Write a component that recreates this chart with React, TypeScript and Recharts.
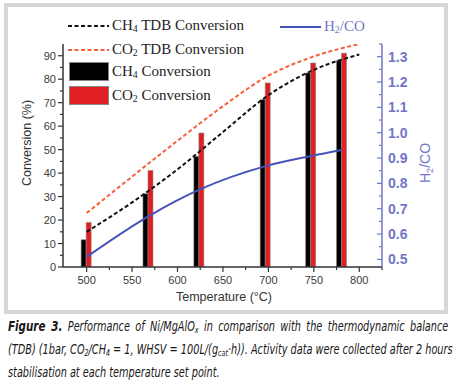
import { Bar, ComposedChart, Line, XAxis, YAxis } from "recharts";

// measured bar temperatures and conversions (%)
const barTemps = [500, 568, 624, 697, 747, 781];
const ch4Conv = [11.6, 31.2, 47.1, 71.3, 82.6, 88.0];
const co2Conv = [19.0, 41.1, 57.1, 78.4, 86.9, 91.1];
const h2co = [0.51, 0.67, 0.775, 0.868, 0.908, 0.932];

// thermodynamic balance curves
const tdbTemps = [500, 550, 600, 650, 700, 750, 800];
const ch4Tdb = [15.0, 27.5, 41.6, 57.5, 73.2, 84.0, 90.5];
const co2Tdb = [23.0, 38.5, 53.8, 68.5, 81.5, 89.7, 95.0];

const xTicks = [500, 525, 550, 575, 600, 625, 650, 675, 700, 725, 750, 775, 800, 825];
const leftTicks = [0, 5, 10, 15, 20, 25, 30, 35, 40, 45, 50, 55, 60, 65, 70, 75, 80, 85, 90, 95];
const rightTicks = [0.5, 0.55, 0.6, 0.65, 0.7, 0.75, 0.8, 0.85, 0.9, 0.95, 1.0, 1.05, 1.1, 1.15, 1.2, 1.25, 1.3, 1.35];

const BLUE = "#4653b8";
const AXIS_BLUE = "#7176c6";
const RED = "#e01f22";
const ORANGE = "#f5603c";
const SANS = "'Liberation Sans', Arial, sans-serif";
const SERIF = "'Liberation Serif', 'Times New Roman', serif";

const W = 454;
const H = 320;
const X_DOMAIN = [474, 825];
const L_DOMAIN = [0, 95];
const R_DOMAIN = [0.47, 1.35];

// bars + H2/CO share the measured temperatures
const barData = barTemps.map((t, i) => ({ t, ch4: ch4Conv[i], co2: co2Conv[i], h2co: h2co[i] }));
// TDB curves on their own grid, drawn in an overlay chart
const tdbData = tdbTemps.map((t, i) => ({ t, ch4Tdb: ch4Tdb[i], co2Tdb: co2Tdb[i] }));

function XTick({ x, y, payload }: any) {
  const v = payload.value;
  const major = v % 50 === 0;
  return (
    <g>
      <line x1={x} x2={x} y1={y} y2={y + (major ? 5 : 3)} stroke="#333" strokeWidth={1.2} />
      {major && (
        <text x={x} y={y + 17} textAnchor="middle" fontSize={11} fill="#3a3a3a" fontFamily={SANS}>
          {v}
        </text>
      )}
    </g>
  );
}

function LeftTick({ x, y, payload }: any) {
  const v = payload.value;
  const major = v % 10 === 0;
  if (v > 90) return <g />;
  return (
    <g>
      <line x1={x - (major ? 5 : 3)} x2={x} y1={y} y2={y} stroke="#333" strokeWidth={1.2} />
      {major && (
        <text x={x - 7} y={y + 4} textAnchor="end" fontSize={11} fill="#3a3a3a" fontFamily={SANS}>
          {v}
        </text>
      )}
    </g>
  );
}

function RightTick({ x, y, payload }: any) {
  const v = payload.value;
  const major = Math.round(v * 100) % 10 === 0;
  return (
    <g>
      <line x1={x - (major ? 5 : 3)} x2={x} y1={y} y2={y} stroke={AXIS_BLUE} strokeWidth={1.2} />
      {major && (
        <text x={x + 6} y={y + 5} textAnchor="start" fontSize={14} fontWeight="bold" fill={AXIS_BLUE} fontFamily={SANS}>
          {v.toFixed(1)}
        </text>
      )}
    </g>
  );
}

function Sub({ children }: { children: any }) {
  return <sub style={{ fontSize: "0.65em", verticalAlign: "-0.25em" }}>{children}</sub>;
}

function LegendLine({ top, left, color, dash, children }: any) {
  return (
    <div style={{ position: "absolute", top, left, display: "flex", alignItems: "center", whiteSpace: "nowrap" }}>
      <svg width={41} height={6} style={{ marginRight: 3 }}>
        <line x1={0} x2={41} y1={3} y2={3} stroke={color} strokeWidth={2} strokeDasharray={dash} />
      </svg>
      <span style={{ fontFamily: SERIF, fontSize: 15, color: color === BLUE ? AXIS_BLUE : "#222" }}>{children}</span>
    </div>
  );
}

function LegendBox({ top, color, children }: any) {
  return (
    <div style={{ position: "absolute", top, left: 69, display: "flex", alignItems: "center", whiteSpace: "nowrap" }}>
      <div style={{ width: 38, height: 17, background: color, border: "1px solid #888", marginRight: 3 }} />
      <span style={{ fontFamily: SERIF, fontSize: 15, color: "#222" }}>{children}</span>
    </div>
  );
}

export default function App() {
  return (
    <div style={{ position: "absolute", left: 0, top: 0, width: 454, height: 380, background: "#fff", overflow: "hidden" }}>
      <div style={{ position: "absolute", left: 4, top: 3, width: 436, height: 303, border: "4px solid #d6d6d6" }} />

      {/* base chart: axes, bars, H2/CO */}
      <div style={{ position: "absolute", left: 0, top: 0 }}>
        <ComposedChart width={W} height={H} data={barData} margin={{ top: 44, right: 0, bottom: 0, left: 0 }} barGap={0}>
          <XAxis
            dataKey="t"
            type="number"
            domain={X_DOMAIN}
            ticks={xTicks}
            interval={0}
            tickSize={0}
            tickMargin={0}
            tick={<XTick />}
            axisLine={{ stroke: "#333", strokeWidth: 1.5 }}
            allowDataOverflow
            height={53}
          />
          <YAxis
            yAxisId="l"
            domain={L_DOMAIN}
            ticks={leftTicks}
            interval={0}
            tickSize={0}
            tickMargin={0}
            tick={<LeftTick />}
            axisLine={{ stroke: "#333", strokeWidth: 1.5 }}
            width={63}
            allowDataOverflow
          />
          <YAxis
            yAxisId="r"
            orientation="right"
            domain={R_DOMAIN}
            ticks={rightTicks}
            interval={0}
            tickSize={0}
            tickMargin={0}
            tick={<RightTick />}
            axisLine={{ stroke: AXIS_BLUE, strokeWidth: 1.5 }}
            width={72}
            allowDataOverflow
          />
          <Bar yAxisId="l" dataKey="ch4" fill="#000" stroke="#777" strokeWidth={0.6} barSize={5} isAnimationActive={false} />
          <Bar yAxisId="l" dataKey="co2" fill={RED} stroke="#888" strokeWidth={0.6} barSize={5} isAnimationActive={false} />
          <Line yAxisId="r" dataKey="h2co" type="monotone" stroke={BLUE} strokeWidth={2} dot={false} isAnimationActive={false} />
        </ComposedChart>
      </div>

      {/* overlay: TDB curves on the same plot box */}
      <div style={{ position: "absolute", left: 0, top: 0, pointerEvents: "none" }}>
        <ComposedChart width={W} height={H} data={tdbData} margin={{ top: 44, right: 72, bottom: 53, left: 63 }}>
          <XAxis dataKey="t" type="number" domain={X_DOMAIN} hide allowDataOverflow />
          <YAxis yAxisId="l" domain={L_DOMAIN} hide allowDataOverflow />
          <Line yAxisId="l" dataKey="co2Tdb" type="monotone" stroke={ORANGE} strokeWidth={2} strokeDasharray="4 2.5" dot={false} isAnimationActive={false} />
          <Line yAxisId="l" dataKey="ch4Tdb" type="monotone" stroke="#111" strokeWidth={2} strokeDasharray="4 2.5" dot={false} isAnimationActive={false} />
        </ComposedChart>
      </div>

      <LegendLine top={17} left={68} color="#111" dash="4 2.5">
        CH<Sub>4</Sub> TDB Conversion
      </LegendLine>
      <LegendLine top={18} left={280} color={BLUE}>
        H<Sub>2</Sub>/CO
      </LegendLine>
      <LegendLine top={41} left={68} color={ORANGE} dash="4 2.5">
        CO<Sub>2</Sub> TDB Conversion
      </LegendLine>
      <LegendBox top={62} color="#000">
        CH<Sub>4</Sub> Conversion
      </LegendBox>
      <LegendBox top={86} color={RED}>
        CO<Sub>2</Sub> Conversion
      </LegendBox>

      <div
        style={{
          position: "absolute",
          left: 27,
          top: 143,
          transform: "translate(-50%, -50%) rotate(-90deg)",
          fontFamily: SANS,
          fontSize: 12.5,
          color: "#333",
          whiteSpace: "nowrap",
        }}
      >
        Conversion (%)
      </div>
      <div
        style={{
          position: "absolute",
          left: 426,
          top: 163,
          transform: "translate(-50%, -50%) rotate(-90deg)",
          fontFamily: SANS,
          fontSize: 14,
          color: AXIS_BLUE,
          whiteSpace: "nowrap",
        }}
      >
        H<Sub>2</Sub>/CO
      </div>
      <div
        style={{
          position: "absolute",
          left: 224,
          top: 297,
          transform: "translate(-50%, -50%)",
          fontFamily: SANS,
          fontSize: 12.5,
          color: "#333",
          whiteSpace: "nowrap",
        }}
      >
        Temperature (°C)
      </div>

      {/* caption, horizontally condensed to match the narrow italic face */}
      <div
        style={{
          position: "absolute",
          left: 8,
          top: 317,
          width: 537,
          transform: "scaleX(0.82)",
          transformOrigin: "0 0",
          fontFamily: "'DejaVu Sans Condensed', 'Liberation Sans Narrow', sans-serif",
          fontStyle: "italic",
          fontSize: 13.2,
          lineHeight: "19px",
          color: "#1a1718",
        }}
      >
        <div style={{ textAlign: "justify", textAlignLast: "justify", whiteSpace: "nowrap" }}>
          <b style={{ fontSize: 14 }}>Figure 3.</b> Performance of Ni/MgAlO<Sub>x</Sub> in comparison with the thermodynamic balance
        </div>
        <div style={{ textAlign: "justify", textAlignLast: "justify", whiteSpace: "nowrap" }}>
          (TDB) (1bar, CO<Sub>2</Sub>/CH<Sub>4</Sub> = 1, WHSV = 100L/(g<Sub>cat</Sub>·h)). Activity data were collected after 2 hours
        </div>
        <div>stabilisation at each temperature set point.</div>
      </div>
    </div>
  );
}
